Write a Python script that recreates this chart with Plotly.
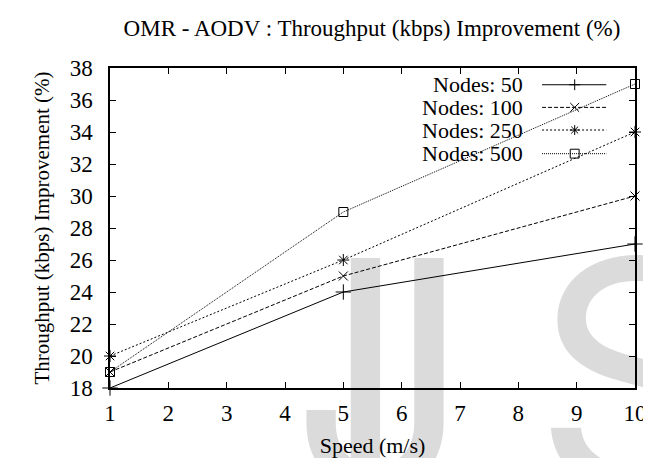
import plotly.graph_objects as go

# ---- data ----
speed = [1, 5, 10]
nodes_50 = [18, 24, 27]
nodes_100 = [19, 25, 30]
nodes_250 = [20, 26, 34]
nodes_500 = [19, 29, 37]
series_names = ["Nodes: 50", "Nodes: 100", "Nodes: 250", "Nodes: 500"]
x_ticks = [1, 2, 3, 4, 5, 6, 7, 8, 9, 10]
y_ticks = [18, 20, 22, 24, 26, 28, 30, 32, 34, 36, 38]

# ---- styles ----
FONT = "Liberation Serif"
W, H = 651, 458
L, R, T, B = 102, 633, 60, 385  # plot area in pixels
dashes = ["solid", "4px,2px", "2px,2px", "1px,1px"]
symbols = ["cross-thin-open", "x-thin-open", "asterisk-open", "square-open"]
msizes = [11, 9, 10, 9]

fig = go.Figure()
for name, ys, d, s, ms in zip(series_names, [nodes_50, nodes_100, nodes_250, nodes_500], dashes, symbols, msizes):
    fig.add_trace(go.Scatter(
        x=speed, y=ys, name=name, mode="lines+markers",
        line=dict(color="black", width=1, dash=d),
        marker=dict(symbol=s, size=ms, color="black", line=dict(color="black", width=1)),
        cliponaxis=False, showlegend=False,
    ))

def px(xp):
    return (xp - L) / (R - L)

def py(yp):
    return (B - yp) / (B - T)

shapes = []
annotations = []
# manual legend (text left, sample right, as in the reference)
rows = [77, 100, 123, 147]
for i, (name, d, s) in enumerate(zip(series_names, dashes, symbols)):
    yc = rows[i]
    annotations.append(dict(text=name, x=px(522), y=py(yc), xref="paper", yref="paper",
                            xanchor="right", yanchor="middle", showarrow=False,
                            font=dict(family=FONT, size=22, color="black")))
    shapes.append(dict(type="line", xref="paper", yref="paper", x0=px(539), x1=px(604),
                       y0=py(yc), y1=py(yc), line=dict(color="black", width=1, dash=d)))
    cx = 572
    def seg(x0, y0, x1, y1):
        shapes.append(dict(type="line", xref="paper", yref="paper", x0=px(x0), x1=px(x1),
                           y0=py(y0), y1=py(y1), line=dict(color="black", width=1)))
    if i == 0:
        seg(cx - 5.5, yc, cx + 5.5, yc); seg(cx, yc - 5.5, cx, yc + 5.5)
    elif i == 1:
        seg(cx - 4.5, yc - 4.5, cx + 4.5, yc + 4.5); seg(cx - 4.5, yc + 4.5, cx + 4.5, yc - 4.5)
    elif i == 2:
        seg(cx - 5, yc, cx + 5, yc); seg(cx, yc - 5, cx, yc + 5)
        seg(cx - 3.5, yc - 3.5, cx + 3.5, yc + 3.5); seg(cx - 3.5, yc + 3.5, cx + 3.5, yc - 3.5)
    else:
        shapes.append(dict(type="rect", xref="paper", yref="paper", x0=px(cx - 4.5), x1=px(cx + 4.5),
                           y0=py(yc - 4.5), y1=py(yc + 4.5), line=dict(color="black", width=1)))

# watermark letters (light gray, translucent so black marks stay visible)
wm_font = dict(family="Inter", size=316, color="rgba(0,0,0,0.14)", weight=400)
for letter, xc in [("I", 360), ("J", 376), ("S", 632)]:
    annotations.append(dict(text=letter, x=px(xc), y=py(370), xref="paper", yref="paper",
                            xanchor="center", yanchor="middle", showarrow=False, font=wm_font))

axis_common = dict(showline=True, linecolor="black", linewidth=1.5, mirror="ticks",
                   ticks="inside", ticklen=6, tickwidth=1, tickcolor="black",
                   showgrid=False, zeroline=False,
                   tickfont=dict(family=FONT, size=23, color="black"))

fig.update_layout(
    width=W, height=H,
    margin=dict(l=L, r=W - R, t=T, b=H - B),
    paper_bgcolor="white", plot_bgcolor="rgba(0,0,0,0)",
    title=dict(text="OMR - AODV : Throughput (kbps) Improvement (%)", x=px(367), xref="paper",
               y=1 - 20 / H, yref="container", xanchor="center", yanchor="middle",
               font=dict(family=FONT, size=23, color="black")),
    xaxis=dict(range=[1, 10], tickvals=x_ticks, ticklabelstandoff=4,
               title=dict(text="Speed (m/s)", standoff=12, font=dict(family=FONT, size=22, color="black")),
               **axis_common),
    yaxis=dict(range=[18, 38], tickvals=y_ticks, ticklabelstandoff=11,
               title=dict(text="Throughput (kbps) Improvement (%)", standoff=14,
                          font=dict(family=FONT, size=21, color="black")),
               **axis_common),
    shapes=shapes, annotations=annotations, showlegend=False,
)

fig.write_html("out.html")
